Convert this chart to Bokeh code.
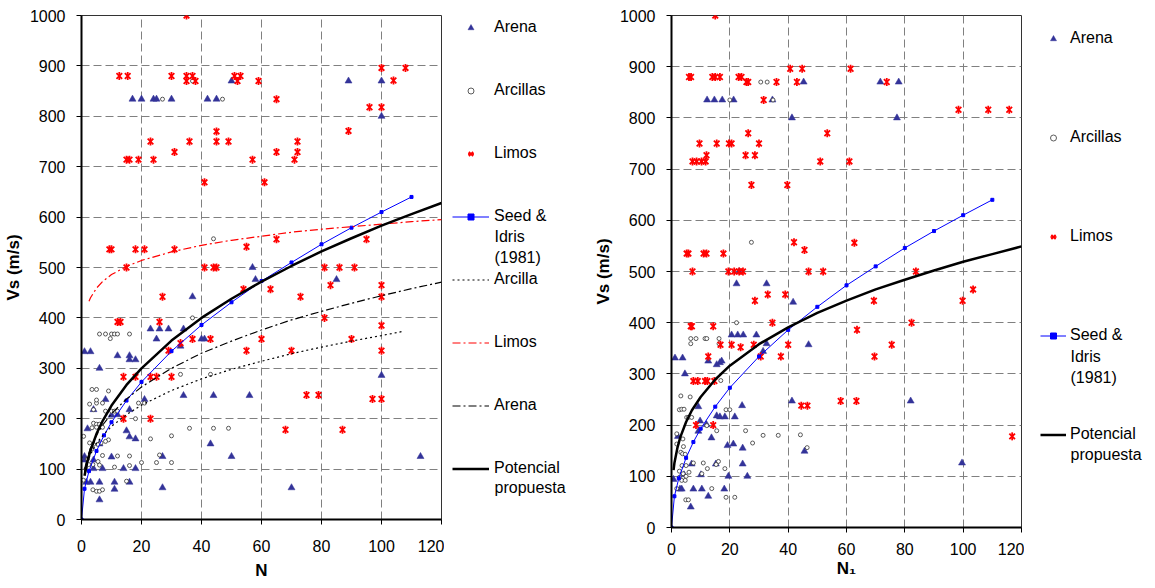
from bokeh.plotting import figure
from bokeh.models import Range1d, FixedTicker, Legend, LegendItem, Label
from bokeh.layouts import row
from bokeh.embed import file_html
from bokeh.resources import INLINE

FONT = "Liberation Sans"

# ---------------- data: left chart (N) ----------------
arena_left = [(17, 834), (20, 834), (24, 834), (25, 834), (30, 834), (42, 834), (45, 834), (50, 870),
              (57, 500), (58, 476), (37, 442), (89, 870), (100, 870), (100, 800), (85, 476), (100, 286),
              (113, 125), (70, 63), (41, 358), (23, 378), (26, 378), (29, 378), (34, 378), (25, 358),
              (40, 358), (33, 344), (1, 333), (3, 333), (12, 325), (16, 325), (16, 317), (18, 317),
              (6, 300), (34, 246), (44, 246), (56, 246), (21, 238), (8, 238), (4, 218), (16, 218),
              (10, 207), (12, 208), (2, 180), (15, 176), (16, 164), (18, 160), (6, 150), (1, 125),
              (1, 118), (4, 118), (4, 101), (10, 124), (14, 101), (18, 101), (7, 101), (27, 125),
              (1.6, 74), (3, 74), (6, 74), (11, 74), (16, 74), (11, 60), (6, 39), (27, 63), (43, 150),
              (50, 125)]

arcillas_left = [(27, 834), (47, 834), (37, 870), (44, 557), (37, 400), (43, 288), (33, 288), (36, 181),
                 (44, 181), (49, 181), (30, 166), (23, 160), (26, 128), (25, 113), (30, 113), (20, 113),
                 (18, 200), (19, 231), (21, 231), (16, 107), (16, 126), (12, 126), (11, 104), (15, 76),
                 (6, 368), (8, 368), (10, 368), (11, 368), (12, 368), (16, 368), (9.6, 359), (3.5, 258),
                 (5, 258), (9, 255), (2.7, 229), (5, 231), (5, 237), (7, 231), (4, 218), (8, 215),
                 (10, 215), (11, 215), (12, 215), (4, 191), (5, 189), (6, 189), (5, 183), (7, 183),
                 (3.5, 182), (0.7, 165), (2.7, 152), (4, 149), (5.5, 149), (6.5, 152), (9, 158), (8, 155),
                 (3.5, 140), (7, 127), (5.5, 115), (2.4, 109), (3.8, 109), (0.6, 78), (3.8, 59), (5, 56),
                 (6, 56), (7, 59), (1.5, 100), (2, 120), (6, 108)]

limos_left = [(12.6, 880), (15.4, 880), (35, 1000), (30, 880), (35, 880), (35, 870), (37, 880), (38, 870),
              (51, 880), (53, 880), (52, 870), (59, 870), (65, 834), (23, 750), (36, 750), (45, 770),
              (45, 750), (49, 750), (72, 750), (72, 729), (65, 729), (31, 729), (15, 714), (16, 714),
              (19, 714), (24, 714), (57, 714), (71, 714), (41, 669), (61, 669), (9.3, 536), (10, 536),
              (18, 536), (21, 536), (31, 536), (15, 500), (41, 500), (44, 500), (45, 500), (55, 541),
              (65, 556), (54, 457), (63, 457), (27, 442), (73, 442), (100, 896), (108, 896), (104, 871),
              (96, 818), (100, 818), (89, 771), (95, 556), (81, 500), (86, 500), (91, 500), (83, 465),
              (100, 465), (100, 442), (81, 400), (100, 385), (90, 358), (70, 335), (100, 335), (75, 247),
              (79, 247), (97, 239), (100, 239), (68, 178), (87, 178), (43, 358), (60, 358), (55, 335),
              (12, 392), (13, 392), (26, 392), (33, 350), (29, 335), (37, 358), (14, 283), (18, 283),
              (23, 283), (25, 283), (30, 283), (14, 200), (23, 200)]

seed_n = [0, 1, 2.5, 5, 7.5, 10, 15, 20, 30, 40, 50, 60, 70, 80, 90, 100, 110]
seed_vs = [0, 61, 96, 136, 167, 193, 236, 273, 334, 386, 431, 473, 510, 546, 579, 610, 640]

fit_arcilla_n = [1, 2, 3, 5, 7, 10, 15, 20, 30, 40, 50, 60, 70, 80, 90, 100, 107]
fit_arcilla_vs = [94, 115, 129, 151, 166, 185, 208, 227, 256, 279, 298, 314, 329, 342, 354, 365, 373]

fit_limos_n = [2.5, 3, 5, 7, 10, 15, 20, 30, 40, 50, 60, 70, 80, 90, 100, 110, 120]
fit_limos_vs = [433, 440, 459, 472, 486, 502, 514, 531, 544, 554, 562, 570, 576, 581, 586, 591, 595]

fit_arena_n = [1, 2, 3, 5, 7, 10, 15, 20, 30, 40, 50, 60, 70, 80, 90, 100, 110, 120]
fit_arena_vs = [99, 124, 142, 167, 187, 210, 239, 263, 300, 330, 354, 376, 396, 413, 429, 444, 458, 471]

pot_left_n = [1, 2, 3, 5, 7, 10, 15, 20, 30, 40, 50, 60, 70, 80, 90, 100, 110, 120]
pot_left_vs = [87, 116, 137, 170, 195, 226, 267, 300, 355, 400, 438, 472, 503, 532, 558, 583, 606, 628]

# ---------------- data: right chart (N1) ----------------
arena_right = [(12.2, 835), (14.7, 835), (17.4, 835), (21.3, 835), (34.6, 835), (41.3, 800), (22.3, 476),
               (32.6, 476), (23.2, 500), (45.3, 870), (71.6, 870), (77.9, 870), (77.3, 800), (41.7, 440),
               (47, 357), (41.3, 247), (82, 247), (45.6, 149), (99.6, 126), (20.6, 376), (22.7, 376),
               (24.6, 376), (29.1, 376), (32.6, 359), (31.4, 344), (1.2, 331), (3.8, 331), (12.6, 325),
               (15.5, 318), (16.6, 322), (17.2, 325), (4.6, 300), (9.2, 236), (15.5, 218), (16.6, 216),
               (18.3, 216), (21.7, 216), (24.2, 238), (9.8, 208), (12, 201), (13.7, 175), (2.2, 178),
               (9.2, 188), (19.2, 160), (21.2, 163), (24.4, 155), (24.4, 124), (15.2, 124), (6.9, 124),
               (10.1, 103), (4.3, 103), (0.7, 94), (19.5, 100), (26, 100), (2.9, 75), (3.5, 75), (7.5, 75),
               (10.4, 75), (18.1, 75), (12.6, 61), (6.6, 40)]

arcillas_right = [(20, 835), (30.6, 870), (32.8, 870), (34.8, 835), (27.4, 557), (44.2, 181), (46.5, 156),
                  (22.3, 400), (31.4, 180), (36.6, 180), (25.4, 189), (27.8, 165), (6.6, 369), (8.4, 369),
                  (11.5, 369), (12.1, 369), (16.3, 369), (6.6, 359), (16.3, 359), (16.9, 287), (3.2, 257),
                  (6.4, 255), (2.7, 230), (3.5, 231), (4.3, 231), (5.2, 215), (5.8, 215), (6.9, 215),
                  (18.7, 230), (20, 230), (12.1, 199), (15.5, 189), (1.8, 183), (1.8, 163), (4.1, 158),
                  (3.9, 173), (3.2, 147), (3.8, 144), (4.7, 143), (7.5, 126), (10.9, 126), (5, 121),
                  (3.6, 121), (16.1, 129), (15.3, 123), (12.3, 115), (18.3, 115), (10.4, 105), (2.7, 110),
                  (4, 105), (5, 100), (6, 108), (2.7, 98), (3.5, 92), (4.7, 92), (1.8, 76), (13.8, 76),
                  (18.7, 59), (21.7, 59), (4.9, 54), (5.8, 54)]

limos_right = [(6, 880), (6.7, 880), (14, 880), (15, 880), (16.6, 880), (15, 1000), (23, 880), (24, 880),
               (25.7, 870), (26.3, 870), (36, 870), (31.6, 835), (40.7, 896), (43, 870), (9.6, 750),
               (15.5, 750), (19.7, 750), (20.6, 750), (30, 750), (26.3, 770), (12, 727), (25.4, 727),
               (28.6, 727), (7.2, 715), (8.6, 715), (10.3, 715), (11.7, 715), (27.4, 669), (39.7, 669),
               (5.2, 535), (5.8, 535), (11, 535), (12, 535), (17.8, 535), (7.2, 500), (19.5, 500),
               (21.5, 500), (23.2, 500), (24.5, 500), (42, 557), (33, 455), (39, 455), (28.6, 443),
               (44.8, 896), (61.4, 896), (73.8, 870), (98.4, 816), (108.6, 816), (115.8, 816), (53.4, 770),
               (51, 715), (61, 715), (45.6, 542), (62.7, 556), (47, 500), (52, 500), (83.8, 500),
               (103.4, 465), (99.8, 443), (69.4, 443), (82.3, 400), (63.6, 386), (40, 357), (75.5, 357),
               (69.6, 334), (37.5, 334), (58, 247), (63.4, 247), (44.5, 238), (46.6, 238), (116.8, 178),
               (6.6, 393), (7, 393), (14.3, 393), (34.6, 400), (16.8, 357), (20.6, 357), (23.7, 352),
               (28.2, 357), (12.6, 334), (30.6, 334), (7.5, 286), (9, 286), (11.5, 286), (12.3, 286),
               (14.7, 286), (8.4, 200), (14.3, 200)]

pot_right_n = [0.7, 1, 2, 3, 5, 7, 10, 15, 20, 30, 40, 50, 60, 70, 80, 90, 100, 110, 120]
pot_right_vs = [112, 126, 155, 176, 206, 229, 255, 289, 316, 358, 391, 419, 443, 465, 484, 502, 519, 534, 549]

x_ticks = [0, 20, 40, 60, 80, 100, 120]
y_ticks = [0, 100, 200, 300, 400, 500, 600, 700, 800, 900, 1000]

NAVY = "#333399"
RED = "#FF0000"
BLUE = "#0000FF"
H = 588
OFF = [-60, -50]  # legend-only renderers sit outside the legend panel's visible range


def unzip(pairs):
    return [a for a, _ in pairs], [b for _, b in pairs]


def base_figure(w, bl, bb, xlabel, x_std, xl_std):
    p = figure(width=w, height=H, x_range=Range1d(0, 120), y_range=Range1d(0, 1000),
               output_backend="svg", toolbar_location=None, title_location=None,
               min_border_left=bl, min_border_top=15, min_border_bottom=bb, min_border_right=3)
    p.frame_align = False
    p.outline_line_color = "#333333"
    p.outline_line_width = 1
    for ax in (p.xaxis[0], p.yaxis[0]):
        ax.axis_line_color = "black"
        ax.axis_line_width = 2
        ax.major_tick_line_color = "black"
        ax.major_tick_out = 5
        ax.major_tick_in = 0
        ax.minor_tick_line_color = None
        ax.major_label_text_font = FONT
        ax.major_label_text_font_size = "16px"
        ax.major_label_text_color = "black"
        ax.axis_label_text_font = FONT
        ax.axis_label_text_font_style = "bold"
        ax.axis_label_text_font_size = "17px"
        ax.axis_label_text_color = "black"
    p.xaxis[0].ticker = FixedTicker(ticks=x_ticks)
    p.yaxis[0].ticker = FixedTicker(ticks=y_ticks)
    p.xaxis[0].axis_label = xlabel
    p.yaxis[0].axis_label = "Vs (m/s)"
    p.xaxis[0].major_label_standoff = x_std
    p.xaxis[0].axis_label_standoff = xl_std
    p.yaxis[0].major_label_standoff = 11
    p.yaxis[0].axis_label_standoff = 4
    for g in (p.xgrid[0], p.ygrid[0]):
        g.grid_line_color = "#808080"
        g.grid_line_dash = "8 4"
        g.grid_line_width = 1
    return p


def legend_figure(w, left, top):
    q = figure(width=w, height=H, x_range=Range1d(0, w - left), y_range=Range1d(0, H - top),
               output_backend="svg", toolbar_location=None, title_location=None,
               x_axis_location=None, y_axis_location=None,
               min_border_left=left, min_border_top=top, min_border_bottom=0, min_border_right=0)
    q.frame_align = False
    q.outline_line_color = None
    q.xgrid.visible = False
    q.ygrid.visible = False
    return q


def style_points(p, arena, arcillas, limos):
    ax, ay = unzip(arena)
    cx, cy = unzip(arcillas)
    lx, ly = unzip(limos)
    r_ar = p.scatter(ax, ay, marker="triangle", size=7, fill_color=NAVY, line_color=NAVY, line_width=0.5)
    r_ac = p.scatter(cx, cy, marker="circle", size=4, fill_color="white", line_color="#333333", line_width=0.8)
    r_l1 = p.scatter(lx, ly, marker="x", size=8, line_color=RED, line_width=1.8)
    r_l2 = p.scatter(lx, ly, marker="dash", size=8, angle=1.5708, line_color=RED, line_width=1.8)
    return r_ar, r_ac, [r_l1, r_l2]


def seed_renderers(p, xs, ys):
    a = p.line(xs, ys, line_color=BLUE, line_width=1)
    b = p.scatter(xs, ys, marker="square", size=3, fill_color=BLUE, line_color=BLUE)
    return [a, b]


def fits(p, d1, d2, d3, d4):
    fa = p.line(*d1, line_color="black", line_width=1.2, line_dash="2 3")
    fl = p.line(*d2, line_color=RED, line_width=1.2, line_dash="8 3 2 3")
    fr = p.line(*d3, line_color="black", line_width=1.2, line_dash="8 3 2 3")
    pt = p.line(*d4, line_color="black", line_width=2.5)
    return fa, fl, fr, pt


def extra_text(q, text, x, y):
    q.add_layout(Label(x=x, y=y, text=text, text_font=FONT, text_font_size="16px",
                       text_color="black", text_baseline="middle", text_align="left"))


def make_legend(q, items, gw, spacing, standoff):
    leg = Legend(items=items, location="top_left", border_line_alpha=0, background_fill_alpha=0,
                 label_text_font=FONT, label_text_font_size="16px", label_text_color="black",
                 glyph_width=gw, glyph_height=15, label_height=20, spacing=spacing,
                 padding=0, margin=0, label_standoff=standoff)
    q.add_layout(leg, "center")


off_pts = list(zip(OFF, OFF))

# ---------------- left chart ----------------
p1 = base_figure(444, 78, 69, "N", 15, 6)
style_points(p1, arena_left, arcillas_left, limos_left)
seed_renderers(p1, seed_n, seed_vs)
fits(p1, (fit_arcilla_n, fit_arcilla_vs), (fit_limos_n, fit_limos_vs),
     (fit_arena_n, fit_arena_vs), (pot_left_n, pot_left_vs))

q1 = legend_figure(146, 8, 17)
qa1, qc1, ql1 = style_points(q1, off_pts, off_pts, off_pts)
qs1 = seed_renderers(q1, OFF, OFF)
qfa1, qfl1, qfr1, qpt1 = fits(q1, (OFF, OFF), (OFF, OFF), (OFF, OFF), (OFF, OFF))
make_legend(q1, [
    LegendItem(label="Arena", renderers=[qa1]),
    LegendItem(label="Arcillas", renderers=[qc1]),
    LegendItem(label="Limos", renderers=ql1),
    LegendItem(label="Seed &", renderers=qs1),
    LegendItem(label="Arcilla", renderers=[qfa1]),
    LegendItem(label="Limos", renderers=[qfl1]),
    LegendItem(label="Arena", renderers=[qfr1]),
    LegendItem(label="Potencial", renderers=[qpt1]),
], 37, 43, 5)
extra_text(q1, "Idris", 42, H - 236)
extra_text(q1, "(1981)", 42, H - 257)
extra_text(q1, "propuesta", 42, H - 487)

# ---------------- right chart ----------------
p2 = base_figure(434, 80, 61, "N\u2081", 10, 1)
style_points(p2, arena_right, arcillas_right, limos_right)
seed_renderers(p2, seed_n, seed_vs)
p2.line(pot_right_n, pot_right_vs, line_color="black", line_width=2.5)

q2 = legend_figure(131, 16, 28)
qa2, qc2, ql2 = style_points(q2, off_pts, off_pts, off_pts)
qs2 = seed_renderers(q2, OFF, OFF)
qpt2 = q2.line(OFF, OFF, line_color="black", line_width=2.5)
make_legend(q2, [
    LegendItem(label="Arena", renderers=[qa2]),
    LegendItem(label="Arcillas", renderers=[qc2]),
    LegendItem(label="Limos", renderers=ql2),
    LegendItem(label="Seed &", renderers=qs2),
    LegendItem(label="Potencial", renderers=[qpt2]),
], 26, 79, 4)
extra_text(q2, "Idris", 30, H - 356)
extra_text(q2, "(1981)", 30, H - 377)
extra_text(q2, "propuesta", 30, H - 454)

layout = row(p1, q1, p2, q2)
open("out.html", "w").write(file_html(layout, INLINE))
